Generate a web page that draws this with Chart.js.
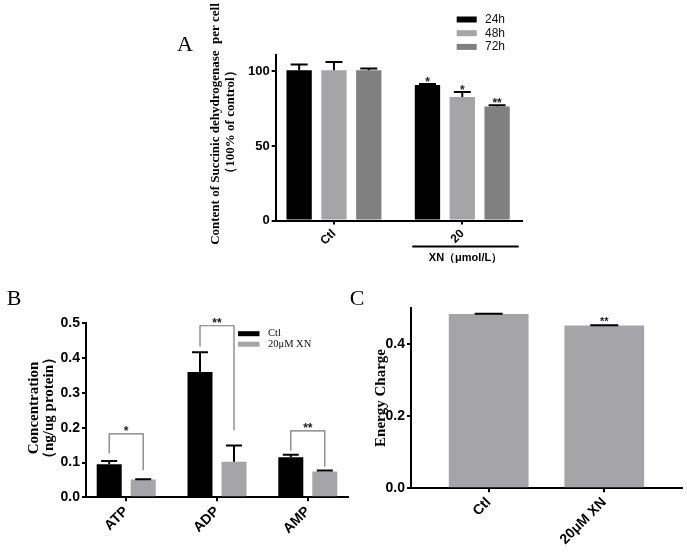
<!DOCTYPE html>
<html><head><meta charset="utf-8">
<script src="https://cdn.jsdelivr.net/npm/chart.js@4.4.1/dist/chart.umd.min.js"></script>
<style>
html,body{margin:0;padding:0;background:#fff;width:687px;height:555px;overflow:hidden}
canvas{position:absolute;left:0;top:0}
</style></head><body>
<canvas id="cA" width="687" height="555"></canvas>
<canvas id="cB" width="687" height="555"></canvas>
<canvas id="cC" width="687" height="555"></canvas>
<script>
// ---------- Panel A data ----------
const catsA = ['Ctl', '20'];
const seriesA = ['24h', '48h', '72h'];
const a24 = [100.7, 90.9];
const a48 = [100.7, 82.8];
const a72 = [100.7, 76.5];
const a24Err = [4.0, 0.7];
const a48Err = [5.6, 3.4];
const a72Err = [1.3, 0.9];
const a24Sig = ['', '*'];
const a48Sig = ['', '*'];
const a72Sig = ['', '**'];
const ticksA = [0, 50, 100];

// ---------- Panel B data ----------
const catsB = ['ATP', 'ADP', 'AMP'];
const seriesB = ['Ctl', '20μM XN'];
const bCtl = [0.095, 0.360, 0.115];
const bXN = [0.051, 0.102, 0.074];
const bCtlErr = [0.009, 0.057, 0.007];
const bXNErr = [0.001, 0.047, 0.003];
const bSig = ['*', '**', '**'];
const bBracketTop = [0.182, 0.493, 0.191];
const bBracketLeft = [0.126, 0.433, 0.134];
const bBracketRight = [0.078, 0.193, 0.088];
const ticksB = [0, 0.1, 0.2, 0.3, 0.4, 0.5];

// ---------- Panel C data ----------
const catsC = ['Ctl', '20μM XN'];
const cEC = [0.484, 0.452];
const cErr = [0.001, 0.001];
const cSig = ['', '**'];
const ticksC = [0, 0.2, 0.4];

const BLACK = '#000000', LGRAY = '#a5a4a9', DGRAY = '#808080';
const SANS = '"Liberation Sans", Arial, sans-serif';
const SERIF = '"Liberation Serif", "Times New Roman", serif';

function pts(vals) { return vals.map((v, i) => ({ x: i, y: v })); }

function xScale(cats, min, max, fontSize, h) {
  return {
    type: 'linear', min: min, max: max, offset: false, bounds: 'data',
    afterBuildTicks: s => { s.ticks = cats.map((c, i) => ({ value: i })); },
    afterFit: s => { s.height = h; },
    ticks: { callback: v => cats[v], minRotation: 45, maxRotation: 45, autoSkip: false,
      color: '#000', padding: 2, font: { family: SANS, size: fontSize, weight: 'bold' } },
    grid: { display: true, offset: false, drawOnChartArea: false, drawTicks: true, tickLength: 4, color: '#000', lineWidth: 2 },
    border: { display: true, color: '#000', width: 2 }
  };
}
function yScale(tickVals, max, fontSize, w, fmt) {
  return {
    type: 'linear', min: 0, max: max,
    afterBuildTicks: s => { s.ticks = tickVals.map(v => ({ value: v })); },
    afterFit: s => { s.width = w; },
    ticks: { callback: fmt, color: '#000', padding: 2, font: { family: SANS, size: fontSize, weight: 'bold' } },
    grid: { display: true, drawOnChartArea: false, drawTicks: true, tickLength: 4, color: '#000', lineWidth: 2 },
    border: { display: true, color: '#000', width: 2 }
  };
}
function drawErr(chart, errs, capHalf) {
  const ctx = chart.ctx, ys = chart.scales.y;
  ctx.save();
  ctx.strokeStyle = '#000'; ctx.lineWidth = 2;
  chart.data.datasets.forEach((ds, di) => {
    chart.getDatasetMeta(di).data.forEach((bar, i) => {
      const yTop = ys.getPixelForValue(ds.data[i].y + errs[di][i]);
      ctx.beginPath();
      ctx.moveTo(bar.x, bar.y); ctx.lineTo(bar.x, yTop);
      ctx.moveTo(bar.x - capHalf, yTop); ctx.lineTo(bar.x + capHalf, yTop);
      ctx.stroke();
    });
  });
  ctx.restore();
}
function star(ctx, txt, x, yCenter, size) {
  if (!txt) return;
  ctx.save();
  ctx.font = 'bold ' + size + 'px ' + SANS;
  ctx.fillStyle = '#222';
  ctx.textAlign = 'center'; ctx.textBaseline = 'alphabetic';
  ctx.fillText(txt, x, yCenter + 0.58 * size);
  ctx.restore();
}
function vText(ctx, txt, x, y, font) {
  ctx.save();
  ctx.translate(x, y); ctx.rotate(-Math.PI / 2);
  ctx.font = font; ctx.fillStyle = '#000';
  ctx.textAlign = 'center'; ctx.textBaseline = 'middle';
  ctx.fillText(txt, 0, 0);
  ctx.restore();
}
function letter(ctx, txt, x, y) {
  ctx.save();
  ctx.font = '22px ' + SERIF; ctx.fillStyle = '#000';
  ctx.textAlign = 'center'; ctx.textBaseline = 'middle';
  ctx.fillText(txt, x, y);
  ctx.restore();
}
const common = {
  responsive: false, animation: false, devicePixelRatio: 1,
  plugins: { legend: { display: false }, tooltip: { enabled: false }, title: { display: false } }
};

// ---------- Chart A ----------
new Chart(document.getElementById('cA'), {
  type: 'bar',
  data: { datasets: [
    { label: seriesA[0], data: pts(a24), backgroundColor: BLACK },
    { label: seriesA[1], data: pts(a48), backgroundColor: LGRAY },
    { label: seriesA[2], data: pts(a72), backgroundColor: DGRAY }
  ] },
  options: Object.assign({}, common, {
    layout: { padding: { left: 275.7 - 40, right: 687 - 521.7, top: 55, bottom: 555 - 220.6 - 40 } },
    datasets: { bar: { categoryPercentage: 0.814, barPercentage: 0.727, borderWidth: 0 } },
    scales: {
      x: xScale(catsA, -0.454, 1.463, 12, 40),
      y: yScale(ticksA, 111, 13, 40, v => String(v))
    }
  }),
  plugins: [{ id: 'decorA', afterDatasetsDraw(chart) {
    const ctx = chart.ctx, xs = chart.scales.x, ys = chart.scales.y;
    const errs = [a24Err, a48Err, a72Err];
    drawErr(chart, errs, 8.5);
    const sigs = [a24Sig, a48Sig, a72Sig];
    chart.data.datasets.forEach((ds, di) => {
      chart.getDatasetMeta(di).data.forEach((bar, i) => {
        star(ctx, sigs[di][i], bar.x, ys.getPixelForValue(ds.data[i].y + errs[di][i]) - 5, 12);
      });
    });
    ctx.save();
    ctx.strokeStyle = '#000'; ctx.lineWidth = 2;
    const yl = chart.chartArea.bottom + 26;
    ctx.beginPath(); ctx.moveTo(xs.getPixelForValue(0.61), yl); ctx.lineTo(xs.getPixelForValue(1.44), yl); ctx.stroke();
    ctx.font = 'bold 11px ' + SANS; ctx.fillStyle = '#000';
    ctx.textAlign = 'center'; ctx.textBaseline = 'middle';
    ctx.fillText('XN（μmol/L）', xs.getPixelForValue(1.025), yl + 11);
    ctx.restore();
    const cols = [BLACK, LGRAY, DGRAY];
    ctx.save();
    ctx.font = '12px ' + SANS; ctx.textBaseline = 'middle'; ctx.textAlign = 'left';
    seriesA.forEach((s, k) => {
      const yc = 19.5 + k * 13.7;
      ctx.fillStyle = cols[k]; ctx.fillRect(456.7, yc - 3, 20, 6);
      ctx.fillStyle = '#111'; ctx.fillText(s, 485, yc);
    });
    ctx.restore();
    vText(ctx, 'Content of Succinic dehydrogenase  per cell', 216, 124, 'bold 13px ' + SERIF);
    vText(ctx, '（100% of control）', 231, 122, 'bold 13px ' + SERIF);
    letter(ctx, 'A', 185, 45);
  } }]
});

// ---------- Chart B ----------
new Chart(document.getElementById('cB'), {
  type: 'bar',
  data: { datasets: [
    { label: seriesB[0], data: pts(bCtl), backgroundColor: BLACK },
    { label: seriesB[1], data: pts(bXN), backgroundColor: LGRAY }
  ] },
  options: Object.assign({}, common, {
    layout: { padding: { left: 86 - 40, right: 687 - 348.3, top: 323.3, bottom: 555 - 497.3 - 50 } },
    datasets: { bar: { categoryPercentage: 0.749, barPercentage: 0.735, borderWidth: 0 } },
    scales: {
      x: xScale(catsB, -0.4427, 2.446, 14, 50),
      y: yScale(ticksB, 0.5, 14, 40, v => v.toFixed(1))
    }
  }),
  plugins: [{ id: 'decorB', afterDatasetsDraw(chart) {
    const ctx = chart.ctx, ys = chart.scales.y;
    drawErr(chart, [bCtlErr, bXNErr], 8);
    const m0 = chart.getDatasetMeta(0).data, m1 = chart.getDatasetMeta(1).data;
    ctx.save();
    ctx.strokeStyle = '#777'; ctx.lineWidth = 1.2;
    catsB.forEach((c, i) => {
      const xl = m0[i].x, xr = m1[i].x, yt = ys.getPixelForValue(bBracketTop[i]);
      ctx.beginPath();
      ctx.moveTo(xl, ys.getPixelForValue(bBracketLeft[i]));
      ctx.lineTo(xl, yt); ctx.lineTo(xr, yt);
      ctx.lineTo(xr, ys.getPixelForValue(bBracketRight[i]));
      ctx.stroke();
      star(ctx, bSig[i], (xl + xr) / 2, yt - 6, 12);
    });
    ctx.restore();
    const cols = [BLACK, LGRAY];
    ctx.save();
    ctx.font = '10.5px ' + SERIF; ctx.textBaseline = 'middle'; ctx.textAlign = 'left';
    seriesB.forEach((s, k) => {
      const yc = 333.7 + k * 10.5;
      ctx.fillStyle = cols[k]; ctx.fillRect(238, yc - 2.5, 21.5, 5);
      ctx.fillStyle = '#111'; ctx.fillText(s, 268, yc);
    });
    ctx.restore();
    vText(ctx, 'Concentration', 34, 408, 'bold 15px ' + SERIF);
    vText(ctx, '（ng/ug protein）', 49, 408, 'bold 15px ' + SERIF);
    letter(ctx, 'B', 14, 299);
  } }]
});

// ---------- Chart C ----------
new Chart(document.getElementById('cC'), {
  type: 'bar',
  data: { datasets: [
    { label: 'Energy Charge', data: pts(cEC), backgroundColor: LGRAY }
  ] },
  options: Object.assign({}, common, {
    layout: { padding: { left: 411 - 40, right: 687 - 682.3, top: 308.3, bottom: 555 - 488.3 - 60 } },
    datasets: { bar: { categoryPercentage: 1, barPercentage: 0.69, borderWidth: 0 } },
    scales: {
      x: xScale(catsC, -0.672, 1.675, 14, 60),
      y: yScale(ticksC, 0.5, 14, 40, v => v.toFixed(1))
    }
  }),
  plugins: [{ id: 'decorC', afterDatasetsDraw(chart) {
    const ctx = chart.ctx, ys = chart.scales.y;
    drawErr(chart, [cErr], 14);
    chart.getDatasetMeta(0).data.forEach((bar, i) => {
      star(ctx, cSig[i], bar.x, ys.getPixelForValue(cEC[i] + cErr[i]) - 7, 11);
    });
    vText(ctx, 'Energy Charge', 381, 398, 'bold 15px ' + SERIF);
    letter(ctx, 'C', 357, 299);
  } }]
});
</script>
</body></html>
